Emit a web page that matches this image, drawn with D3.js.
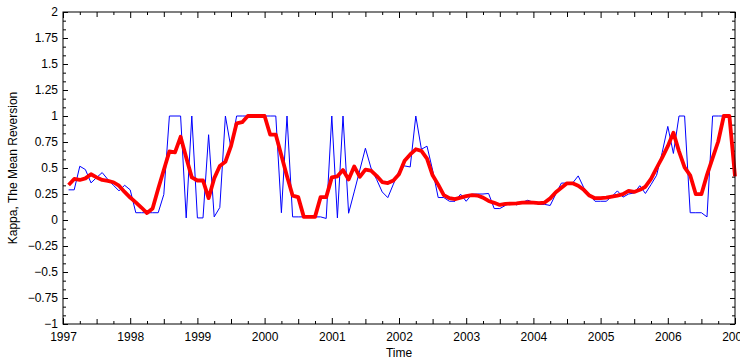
<!DOCTYPE html>
<html>
<head>
<meta charset="utf-8">
<script src="https://cdn.jsdelivr.net/npm/d3@7"></script>
<style>
  body { margin: 0; background: #fff; }
  text { font-family: "Liberation Sans", Arial, sans-serif; }
</style>
</head>
<body>
<div id="chart"></div>
<script>
// monthly estimates, first value is Feb 1997
const startYear = 1997;
const firstMonth = 1;

const kappaMonthly = [
  0.29, 0.29, 0.517, 0.485, 0.357, 0.408, 0.456, 0.39, 0.334, 0.28, 0.334, 0.29,
  0.07, 0.07, 0.07, 0.07, 0.07, 0.245, 1.0, 1.0, 1.0, 0.02, 1.0, 0.02,
  0.02, 0.82, 0.03, 0.12, 1.0, 0.69, 1.0, 1.0, 1.0, 1.0, 1.0, 1.0,
  1.0, 1.0, 0.07, 1.0, 0.03, 0.03, 0.03, 0.03, 0.03, 0.03, 0.015, 1.0,
  0.02, 1.0, 0.065, 0.27, 0.48, 0.69, 0.50, 0.39, 0.27, 0.215, 0.345, 0.47,
  0.52, 0.51, 1.0, 0.68, 0.71, 0.48, 0.216, 0.216, 0.18, 0.18, 0.248, 0.18,
  0.248, 0.25, 0.25, 0.255, 0.11, 0.11, 0.14, 0.17, 0.145, 0.17, 0.19, 0.17,
  0.15, 0.15, 0.14, 0.25, 0.355, 0.355, 0.355, 0.424, 0.31, 0.24, 0.18, 0.18,
  0.18, 0.225, 0.28, 0.22, 0.25, 0.26, 0.33, 0.255, 0.34, 0.43, 0.65, 0.90,
  0.64, 1.0, 1.0, 0.07, 0.07, 0.07, 0.03, 1.0, 1.0, 1.0, 1.0, 0.42
];

const kappaSmooth = [
  0.337, 0.395, 0.385, 0.40, 0.44, 0.41, 0.385, 0.376, 0.363, 0.33, 0.27, 0.216,
  0.17, 0.12, 0.067, 0.11, 0.30, 0.48, 0.66, 0.65, 0.80, 0.60, 0.41, 0.38,
  0.38, 0.21, 0.40, 0.52, 0.56, 0.71, 0.93, 0.94, 1.0, 1.0, 1.0, 1.0,
  0.82, 0.82, 0.62, 0.42, 0.235, 0.22, 0.03, 0.03, 0.03, 0.22, 0.22, 0.41,
  0.42, 0.48, 0.39, 0.515, 0.415, 0.485, 0.475, 0.425, 0.365, 0.355, 0.38, 0.44,
  0.57, 0.63, 0.68, 0.665, 0.59, 0.43, 0.34, 0.24, 0.21, 0.20, 0.215, 0.23,
  0.24, 0.235, 0.215, 0.183, 0.165, 0.145, 0.155, 0.158, 0.16, 0.167, 0.17, 0.167,
  0.162, 0.168, 0.208, 0.267, 0.31, 0.353, 0.353, 0.33, 0.29, 0.235, 0.21, 0.21,
  0.216, 0.225, 0.235, 0.248, 0.28, 0.27, 0.29, 0.32, 0.395, 0.50, 0.60, 0.71,
  0.84, 0.66, 0.505, 0.43, 0.248, 0.248, 0.434, 0.594, 0.755, 1.0, 1.0, 0.42
];

const yTicks = [-1, -0.75, -0.5, -0.25, 0, 0.25, 0.5, 0.75, 1, 1.25, 1.5, 1.75, 2];
const xTicks = [1997, 1998, 1999, 2000, 2001, 2002, 2003, 2004, 2005, 2006, 2007];

const W = 740, H = 360;
const margin = {top: 12, right: 5, bottom: 36, left: 63};
const width = W - margin.left - margin.right;
const height = H - margin.top - margin.bottom;

const svg = d3.select('#chart').append('svg')
  .attr('width', W)
  .attr('height', H);

const g = svg.append('g')
  .attr('transform', `translate(${margin.left}, ${margin.top})`);

const x = d3.scaleLinear()
  .domain([xTicks[0], xTicks[xTicks.length - 1]])
  .range([0, width]);

const y = d3.scaleLinear()
  .domain([yTicks[0], yTicks[yTicks.length - 1]])
  .range([height, 0]);

const t = i => startYear + (firstMonth + i) / 12;

// minor tick positions
const yMinor = [];
for (let i = 0; i < yTicks.length - 1; i++) {
  yMinor.push(yTicks[i] + 0.25 / 3, yTicks[i] + 0.5 / 3);
}
const xHalf = [], xQuarter = [];
for (let i = 0; i < xTicks.length - 1; i++) {
  xHalf.push(xTicks[i] + 0.5);
  xQuarter.push(xTicks[i] + 0.25, xTicks[i] + 0.75);
}

const tickStyle = sel => {
  sel.select('.domain').remove();
  sel.selectAll('line').attr('stroke', '#000');
  sel.selectAll('text').attr('fill', '#000').style('font-size', '12px');
};

// left
g.append('g').call(d3.axisLeft(y).tickValues(yTicks).tickSize(-5).tickPadding(5).tickFormat(d3.format('~g'))).call(tickStyle);
g.append('g').call(d3.axisLeft(y).tickValues(yMinor).tickSize(-3).tickFormat('')).call(tickStyle);
// right
g.append('g').attr('transform', `translate(${width},0)`)
  .call(d3.axisRight(y).tickValues(yTicks).tickSize(-5).tickFormat('')).call(tickStyle);
g.append('g').attr('transform', `translate(${width},0)`)
  .call(d3.axisRight(y).tickValues(yMinor).tickSize(-3).tickFormat('')).call(tickStyle);
// bottom
g.append('g').attr('transform', `translate(0,${height})`)
  .call(d3.axisBottom(x).tickValues(xTicks).tickSize(-6).tickPadding(8).tickFormat(d3.format('d'))).call(tickStyle);
g.append('g').attr('transform', `translate(0,${height})`)
  .call(d3.axisBottom(x).tickValues(xHalf).tickSize(-5).tickFormat('')).call(tickStyle);
g.append('g').attr('transform', `translate(0,${height})`)
  .call(d3.axisBottom(x).tickValues(xQuarter).tickSize(-3).tickFormat('')).call(tickStyle);
// top
g.append('g')
  .call(d3.axisTop(x).tickValues(xTicks).tickSize(-6).tickFormat('')).call(tickStyle);
g.append('g')
  .call(d3.axisTop(x).tickValues(xHalf).tickSize(-5).tickFormat('')).call(tickStyle);
g.append('g')
  .call(d3.axisTop(x).tickValues(xQuarter).tickSize(-3).tickFormat('')).call(tickStyle);

const line = d3.line()
  .x((d, i) => x(t(i)))
  .y(d => y(d));

g.append('path')
  .datum(kappaMonthly)
  .attr('fill', 'none')
  .attr('stroke', '#0000ff')
  .attr('stroke-width', 1)
  .attr('d', line);

g.append('path')
  .datum(kappaSmooth)
  .attr('fill', 'none')
  .attr('stroke', '#ff0000')
  .attr('stroke-width', 3.8)
  .attr('stroke-linejoin', 'round')
  .attr('d', line);

// frame
g.append('rect')
  .attr('width', width)
  .attr('height', height)
  .attr('fill', 'none')
  .attr('stroke', '#000')
  .attr('stroke-width', 1);

svg.append('text')
  .attr('x', margin.left + width / 2)
  .attr('y', H - 3)
  .attr('text-anchor', 'middle')
  .style('font-size', '12px')
  .text('Time');

svg.append('text')
  .attr('transform', `translate(17, ${margin.top + height / 2}) rotate(-90)`)
  .attr('text-anchor', 'middle')
  .style('font-size', '12px')
  .text('Kappa, The Mean Reversion');
</script>
</body>
</html>
